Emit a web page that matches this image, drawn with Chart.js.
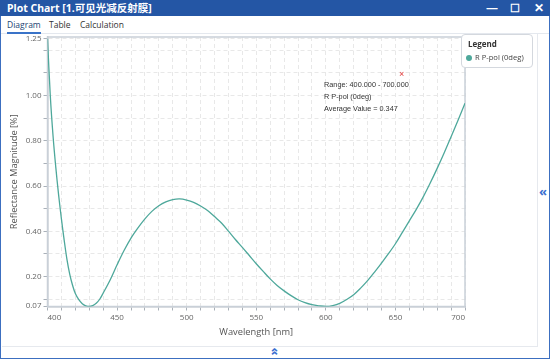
<!DOCTYPE html>
<html>
<head>
<meta charset="utf-8">
<script src="https://cdn.jsdelivr.net/npm/chart.js@4"></script>
<style>
    html, body { margin: 0; padding: 0; background: #fff; }
    body { width: 552px; height: 360px; position: relative; overflow: hidden; font-family: "Open Sans", "Noto Sans", "Noto Sans CJK SC", sans-serif; }
    .win { position: absolute; left: 0; top: 0; width: 548px; height: 358px; border: 1px solid #3c6fc0; border-top: none; box-sizing: content-box; }
    .titlebar { position: absolute; left: 0; top: 0; width: 550px; height: 16px; background: #2456a5; color: #fff; }
    .titlebar .t { position: absolute; left: 7px; top: 1px; font-size: 10.5px; font-weight: bold; font-family: "Noto Sans", "Noto Sans CJK SC", sans-serif; line-height: 14px; }
    .titlebar .ic { position: absolute; top: 0; font-size: 12px; line-height: 16px; font-weight: bold; }
    .tabs { position: absolute; left: 1px; top: 16px; width: 548px; height: 17px; background: #fff; border-bottom: 1px solid #e4e8ee; font-size: 8.5px; color: #333; }
    .tabs span { position: absolute; top: 3px; }
    .tabs .on { border-bottom: 2px solid #3a73c8; padding: 0 0 2px 0; color: #1c3f73; }
    .panel { position: absolute; left: 2px; top: 34px; width: 535px; height: 312px; border-right: 1px solid #e6e9ee; border-bottom: 1px solid #e6e9ee; }
    .chev { position: absolute; color: #3a6fd0; font-size: 13px; line-height: 13px; font-weight: bold; }
    canvas { position: absolute; left: 0; top: 0; }
    .legend { position: absolute; left: 461px; top: 34px; width: 70px; height: 32px; border: 1px solid #d4d8de; border-radius: 4px; background: #fff; font-family: "Open Sans", sans-serif; }
    .legend .h { position: absolute; left: 6px; top: 3px; font-size: 8px; font-weight: bold; color: #333; }
    .legend .row { position: absolute; left: 4px; top: 17px; font-size: 7.6px; color: #444; white-space: nowrap; }
    .legend .dot { display: inline-block; width: 6px; height: 6px; border-radius: 50%; vertical-align: -0.5px; margin-right: 3px; }
    .note { position: absolute; left: 324px; font-family: "Liberation Sans", Arial, sans-serif; font-size: 7.3px; color: #333; white-space: nowrap; }
    .mark { position: absolute; left: 399px; top: 69px; color: #e23a3a; font-family: "Liberation Sans", sans-serif; font-size: 9px; line-height: 10px; }
</style>
</head>
<body>
<div class="win"></div>
<div class="titlebar">
    <div class="t">Plot Chart [1.可见光减反射膜]</div>
    <div class="ic" style="left:486px;">—</div>
    <div class="ic" style="left:510px; font-size:11px;">☐</div>
    <div class="ic" style="left:534px;">✕</div>
</div>
<div class="tabs">
    <span class="on" style="left:6px;">Diagram</span>
    <span style="left:48px;">Table</span>
    <span style="left:79px;">Calculation</span>
</div>
<div class="panel"></div>
<div class="chev" style="left:539px; top:185px;">«</div>
<div class="chev" style="left:271px; top:345px; transform: rotate(90deg);">«</div>

<canvas id="plotChart" width="552" height="360"></canvas>

<div class="legend">
    <div class="h">Legend</div>
    <div class="row"><span class="dot" id="legendDot"></span><span id="legendText"></span></div>
</div>
<div class="mark">×</div>
<div class="note" id="note1" style="top:80px;"></div>
<div class="note" id="note2" style="top:92px;"></div>
<div class="note" id="note3" style="top:104px;"></div>

<script>
// Series
const seriesName = 'R P-pol (0deg)';
const wavelengths = [400, 402, 404, 406, 408, 410, 412, 414, 416, 418, 420, 422.5, 425, 427.5, 430, 432.5, 435, 437.5, 440, 445, 450,
    455, 460, 465, 470, 475, 480, 485, 490, 495, 500, 505, 510, 515, 520, 525, 530, 535, 540,
    545, 550, 555, 560, 565, 570, 575, 580, 585, 590, 595, 600, 605, 610, 615, 620, 625, 630,
    635, 640, 645, 650, 655, 660, 665, 670, 675, 680, 685, 690, 695, 700];
const reflectance = [1.25, 1.0, 0.82, 0.68, 0.56, 0.455, 0.36, 0.275, 0.21, 0.162, 0.125, 0.098, 0.08, 0.071, 0.068, 0.072, 0.082, 0.1, 0.127, 0.185, 0.252,
    0.315, 0.37, 0.415, 0.455, 0.488, 0.513, 0.53, 0.54, 0.543, 0.538, 0.528, 0.512, 0.492, 0.465, 0.437, 0.401, 0.364, 0.329,
    0.293, 0.257, 0.223, 0.19, 0.161, 0.137, 0.116, 0.098, 0.085, 0.076, 0.071, 0.068, 0.072, 0.082, 0.099, 0.12, 0.149, 0.182,
    0.22, 0.26, 0.301, 0.345, 0.395, 0.446, 0.497, 0.552, 0.613, 0.678, 0.746, 0.818, 0.89, 0.965];

// Axis ticks
const xTicks = [400, 410, 420, 430, 440, 450, 460, 470, 480, 490, 500, 510, 520, 530, 540, 550,
    560, 570, 580, 590, 600, 610, 620, 630, 640, 650, 660, 670, 680, 690, 700];
const xLabelTicks = [400, 450, 500, 550, 600, 650, 700];
const yTicks = [0.07, 0.1, 0.2, 0.3, 0.4, 0.5, 0.6, 0.7, 0.8, 0.9, 1.0, 1.1, 1.2, 1.25];
const yLabelTicks = [0.07, 0.2, 0.4, 0.6, 0.8, 1.0, 1.25];

// Annotation text
const noteLines = ['Range: 400.000 - 700.000', seriesName, 'Average Value = 0.347'];

const lineColor = '#4ea89b';

document.getElementById('legendDot').style.background = lineColor;
document.getElementById('legendText').textContent = seriesName;
noteLines.forEach((t, i) => { document.getElementById('note' + (i + 1)).textContent = t; });

// Frame around the plot area (top / right edges)
const frame = {
    id: 'frame',
    beforeDatasetsDraw(chart) {
        const { ctx, chartArea: a } = chart;
        ctx.save();
        ctx.strokeStyle = '#c9d0d8';
        ctx.lineWidth = 1.5;
        ctx.strokeRect(a.left, a.top, a.right - a.left, a.bottom - a.top);
        ctx.restore();
    }
};

const near = (list, v) => list.some(t => Math.abs(t - v) < 1e-6);

new Chart(document.getElementById('plotChart'), {
    type: 'line',
    data: {
        datasets: [{
            label: seriesName,
            data: wavelengths.map((w, i) => ({ x: w, y: reflectance[i] })),
            borderColor: lineColor,
            borderWidth: 1.3,
            pointRadius: 0,
            tension: 0.35,
            fill: false
        }]
    },
    options: {
        responsive: false,
        devicePixelRatio: 1,
        animation: false,
        layout: { padding: { left: 8, top: 37, right: 87, bottom: 22 } },
        plugins: { legend: { display: false }, tooltip: { enabled: false } },
        scales: {
            x: {
                type: 'linear',
                min: 400,
                max: 700,
                afterBuildTicks(axis) { axis.ticks = xTicks.map(v => ({ value: v })); },
                afterFit(axis) { axis.height = 31.5; },
                grid: { color: '#e8e8e8', drawTicks: true, tickLength: 4, tickColor: '#a9b0b8', tickBorderDash: [] },
                border: { display: true, color: '#b8c0c8', width: 1.5, dash: [4, 3] },
                ticks: {
                    autoSkip: false,
                    maxRotation: 0,
                    align: 'inner',
                    padding: 2,
                    color: '#666',
                    font: { family: 'Open Sans', size: 8 },
                    callback: v => near(xLabelTicks, v) ? String(v) : ''
                },
                title: {
                    display: true,
                    text: 'Wavelength [nm]',
                    color: '#555',
                    font: { family: 'Open Sans', size: 9.3 },
                    padding: 0
                }
            },
            y: {
                type: 'linear',
                min: 0.068,
                max: 1.258,
                afterBuildTicks(axis) { axis.ticks = yTicks.map(v => ({ value: v })); },
                afterFit(axis) { axis.width = 39.5; },
                grid: { color: '#e8e8e8', drawTicks: true, tickLength: 4, tickColor: '#a9b0b8', tickBorderDash: [] },
                border: { display: true, color: '#b8c0c8', width: 1.5, dash: [4, 3] },
                ticks: {
                    autoSkip: false,
                    padding: 2,
                    color: '#666',
                    font: { family: 'Open Sans', size: 8 },
                    callback: v => near(yLabelTicks, v) ? v.toFixed(2) : ''
                },
                title: {
                    display: true,
                    text: 'Reflectance Magnitude [%]',
                    color: '#555',
                    font: { family: 'Open Sans', size: 9.3 },
                    padding: { top: 1, bottom: 0 }
                }
            }
        }
    },
    plugins: [frame]
});
</script>
</body>
</html>
